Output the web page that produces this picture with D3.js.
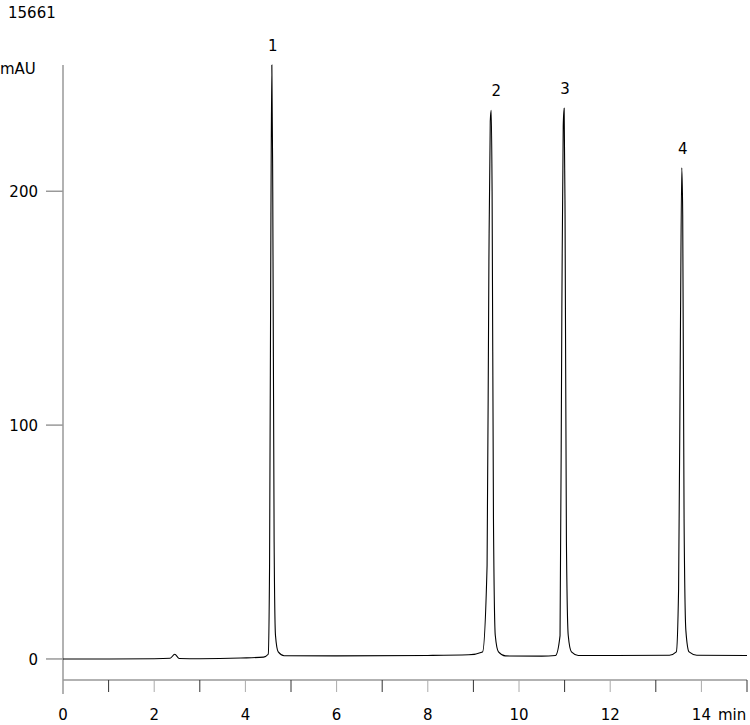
<!DOCTYPE html>
<html>
<head>
<meta charset="utf-8">
<script src="https://cdn.jsdelivr.net/npm/d3@7"></script>
<style>
  body { margin: 0; background: #fff; }
  text { font-family: "DejaVu Sans", Verdana, sans-serif; font-size: 15px; fill: #000; }
</style>
</head>
<body>
<svg id="chart"></svg>
<script>
// trace points (min, mAU)
const times = [0, 1, 2, 2.35, 2.45, 2.55, 3, 3.9, 4.4, 4.5, 4.53, 4.56, 4.58, 4.6, 4.63, 4.66, 4.72, 4.85, 6, 8, 8.9, 9.2, 9.3, 9.34, 9.37, 9.39, 9.41, 9.44, 9.48, 9.55, 9.7, 10.5, 10.8, 10.9, 10.94, 10.97, 10.99, 11.01, 11.04, 11.08, 11.15, 11.3, 12, 13.3, 13.45, 13.5, 13.54, 13.57, 13.59, 13.62, 13.66, 13.73, 13.9, 15];
const values = [0, 0, 0.1, 0.3, 2.0, 0.2, 0.1, 0.4, 0.8, 2, 40, 190, 254, 200, 50, 10, 3, 1.4, 1.3, 1.5, 1.8, 3, 40, 170, 230, 234.6, 200, 60, 10, 3, 1.3, 1.2, 1.5, 10, 150, 228, 235.5, 190, 50, 10, 3, 1.5, 1.5, 1.6, 3, 30, 140, 210, 190, 60, 12, 3, 1.6, 1.5];
const xTickLabels = [0, 2, 4, 6, 8, 10, 12, 14];
const yTickLabels = [0, 100, 200];
const peakLabels = ['1', '2', '3', '4'];
const peakTimes = [4.58, 9.39, 10.99, 13.57];
const peakHeights = [254, 234.6, 235.5, 210];

const width = 750, height = 725;
const svg = d3.select('#chart').attr('width', width).attr('height', height);

const x = d3.scaleLinear().domain([0, 15]).range([63, 747]);
const y = d3.scaleLinear().domain([-9, 254]).range([680, 65]);

// axes
svg.append('line').attr('x1', 63).attr('x2', 747).attr('y1', 680).attr('y2', 680)
  .attr('stroke', '#999').attr('stroke-width', 1.5);
svg.append('line').attr('x1', 63).attr('x2', 63).attr('y1', 65).attr('y2', 694)
  .attr('stroke', '#999').attr('stroke-width', 1.5);

svg.selectAll('.xtick').data(d3.range(1, 16)).enter().append('line')
  .attr('x1', d => x(d)).attr('x2', d => x(d)).attr('y1', 680).attr('y2', 692)
  .attr('stroke', d => d % 2 === 0 ? '#aaa' : '#333').attr('stroke-width', 1);

svg.selectAll('.xlab').data(xTickLabels).enter().append('text')
  .attr('x', d => x(d)).attr('y', 720).attr('text-anchor', 'middle')
  .text(d => d);
svg.append('text').attr('x', 718).attr('y', 720).text('min');

svg.selectAll('.ytick').data(yTickLabels).enter().append('line')
  .attr('x1', 46).attr('x2', 63).attr('y1', d => y(d)).attr('y2', d => y(d))
  .attr('stroke', '#999').attr('stroke-width', 1.5);
svg.selectAll('.ylab').data(yTickLabels).enter().append('text')
  .attr('x', 38).attr('y', d => y(d) + 6).attr('text-anchor', 'end')
  .text(d => d);

svg.append('text').attr('x', 0).attr('y', 74).text('mAU');
svg.append('text').attr('x', 8).attr('y', 18).text('15661');

// trace
const line = d3.line().x((d, i) => x(times[i])).y(d => y(d)).curve(d3.curveMonotoneX);
svg.append('path').datum(values).attr('d', line)
  .attr('fill', 'none').attr('stroke', '#000').attr('stroke-width', 1.1);

// peak labels
svg.selectAll('.plab').data(peakLabels).enter().append('text')
  .attr('x', (d, i) => x(peakTimes[i]) + (i === 1 ? 5 : 1))
  .attr('y', (d, i) => y(peakHeights[i]) - 14)
  .attr('text-anchor', 'middle')
  .text(d => d);
</script>
</body>
</html>
